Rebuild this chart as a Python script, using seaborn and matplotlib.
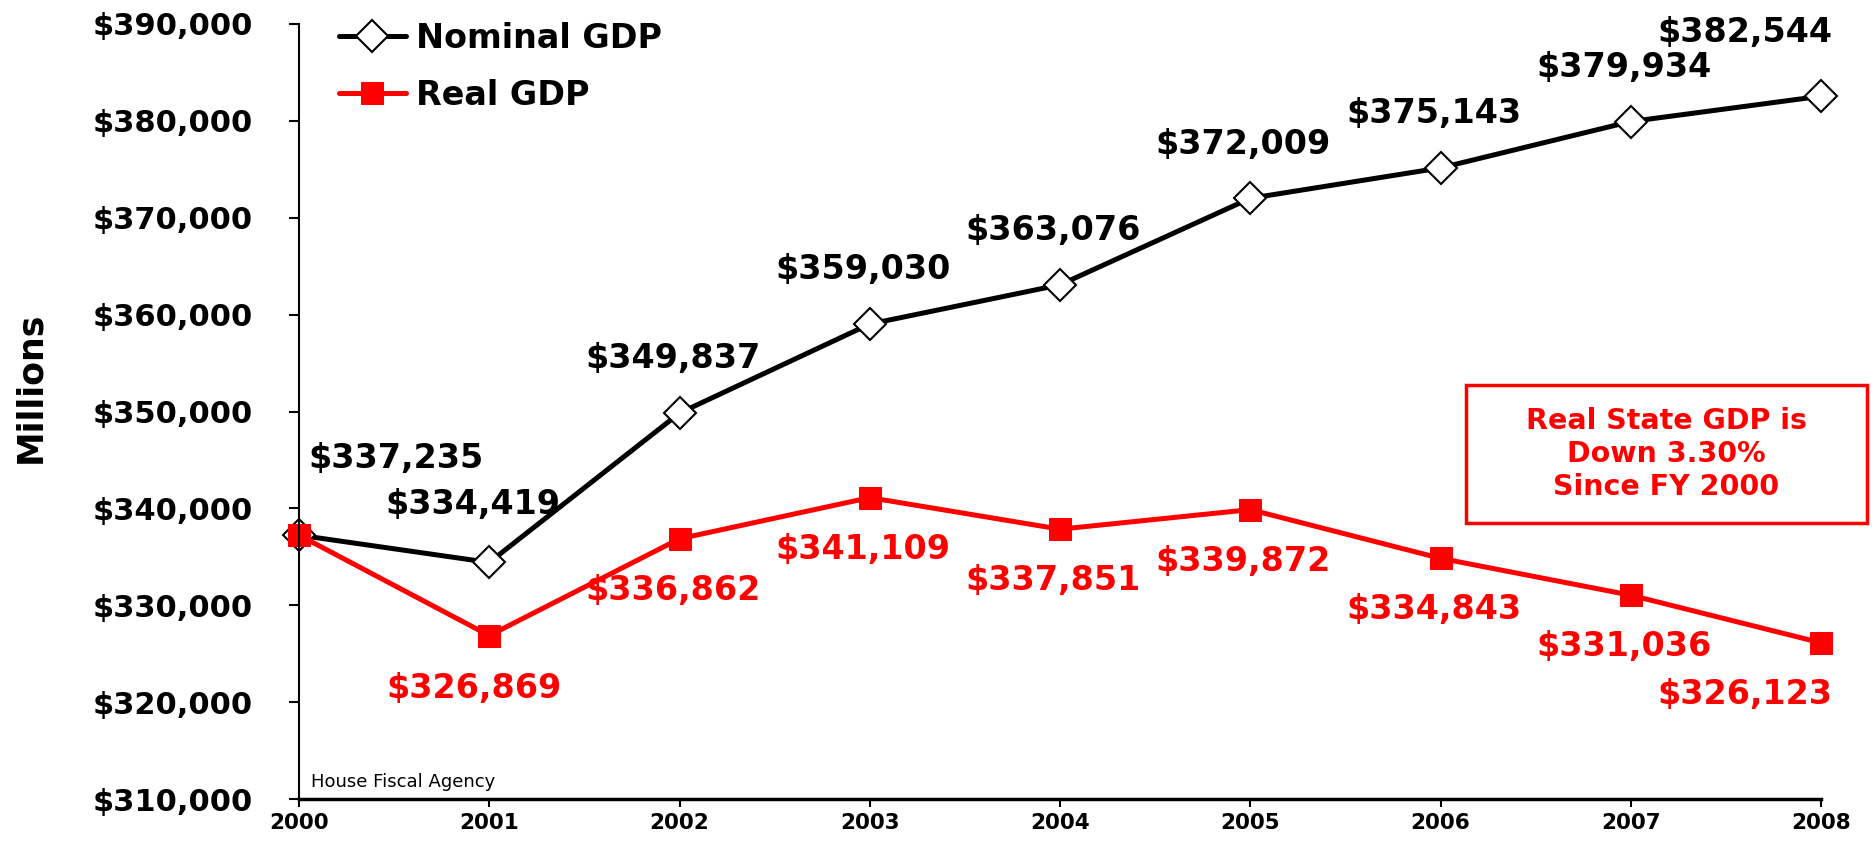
import numpy as np
import pandas as pd
import matplotlib
matplotlib.use("Agg")
import matplotlib.pyplot as plt
import seaborn as sns
from matplotlib.patches import Rectangle
from matplotlib.ticker import FuncFormatter

years = [2000, 2001, 2002, 2003, 2004, 2005, 2006, 2007, 2008]
nominal_gdp = [337235, 334419, 349837, 359030, 363076, 372009, 375143, 379934, 382544]
real_gdp = [337235, 326869, 336862, 341109, 337851, 339872, 334843, 331036, 326123]

df = pd.DataFrame({"year": years, "Nominal GDP": nominal_gdp, "Real GDP": real_gdp})

sns.set_style("ticks")
plt.rcParams['font.family'] = ['DejaVu Sans']
plt.rcParams['text.color'] = 'black'
plt.rcParams['xtick.color'] = 'black'
plt.rcParams['ytick.color'] = 'black'
plt.rcParams['axes.edgecolor'] = 'black'

fig = plt.figure(figsize=(18.75, 8.43), dpi=100)
ax = fig.add_axes([299 / 1875, 44 / 843, 1522 / 1875, 775 / 843])

sns.lineplot(data=df, x="year", y="Nominal GDP", ax=ax, color="black", linewidth=3.6,
             marker="D", markersize=16, markerfacecolor="white", markeredgecolor="black",
             markeredgewidth=1.5, label="Nominal GDP", clip_on=False)
sns.lineplot(data=df, x="year", y="Real GDP", ax=ax, color="red", linewidth=3.6,
             marker="s", markersize=16, markerfacecolor="red", markeredgecolor="red",
             label="Real GDP", clip_on=False)

# value labels, offsets in points
last = len(years) - 1
for i, (yr, v) in enumerate(zip(years, nominal_gdp)):
    if i == 0:
        off = (70, 55)
    elif i == 1:
        off = (-12, 42)
    elif i == last:
        off = (-55, 46)
    else:
        off = (-5, 39)
    ax.annotate(f"${v:,}", (yr, v), xytext=off, textcoords="offset points",
                ha="center", va="center", fontsize=24, fontweight="bold", color="black")

for i, (yr, v) in enumerate(zip(years, real_gdp)):
    if i == 0:
        continue
    if i == 1:
        off = (-11, -38)
    elif i == last:
        off = (-55, -37)
    else:
        off = (-5, -37)
    ax.annotate(f"${v:,}", (yr, v), xytext=off, textcoords="offset points",
                ha="center", va="center", fontsize=24, fontweight="bold", color="red")

ax.set_xlim(2000, 2008)
ax.set_ylim(310000, 390000)
ax.set_xticks(years)
ax.set_yticks(np.arange(310000, 390001, 10000))
ax.yaxis.set_major_formatter(FuncFormatter(lambda v, p: f"${int(v):,}"))
ax.tick_params(axis="y", labelsize=22, length=7, width=1.5, pad=26)
ax.tick_params(axis="x", labelsize=15.5, length=6, width=1.5, pad=4)
for lab in ax.get_xticklabels() + ax.get_yticklabels():
    lab.set_fontweight("bold")
ax.set_xlabel("")
ax.set_ylabel("")
sns.despine(ax=ax)
ax.spines["left"].set_linewidth(1.5)
ax.spines["bottom"].set_linewidth(2.5)

fig.text(30 / 1875, 1 - 387 / 843, "Millions", rotation=90, ha="center", va="center",
         fontsize=25, fontweight="bold")

leg = ax.legend(loc="upper left", bbox_to_anchor=(40 / 1522, 1.003), frameon=False,
                prop={"size": 24, "weight": "bold"}, handlelength=2.0,
                handletextpad=0.3, labelspacing=0.72, borderaxespad=0, borderpad=0)

ax.text(12 / 1522, 12 / 775, "House Fiscal Agency", transform=ax.transAxes, fontsize=13,
        ha="left", va="baseline")

# annotation box
fig.patches.append(Rectangle((1466 / 1875, 1 - 523 / 843), 401 / 1875, 138 / 843,
                             transform=fig.transFigure, fill=False,
                             edgecolor="red", linewidth=2.5))
fig.text(1666 / 1875, 1 - 454 / 843, "Real State GDP is\nDown 3.30%\nSince FY 2000",
         ha="center", va="center", fontsize=20.5, fontweight="bold", color="red",
         linespacing=1.22)

fig.savefig("out.png", dpi=100)
